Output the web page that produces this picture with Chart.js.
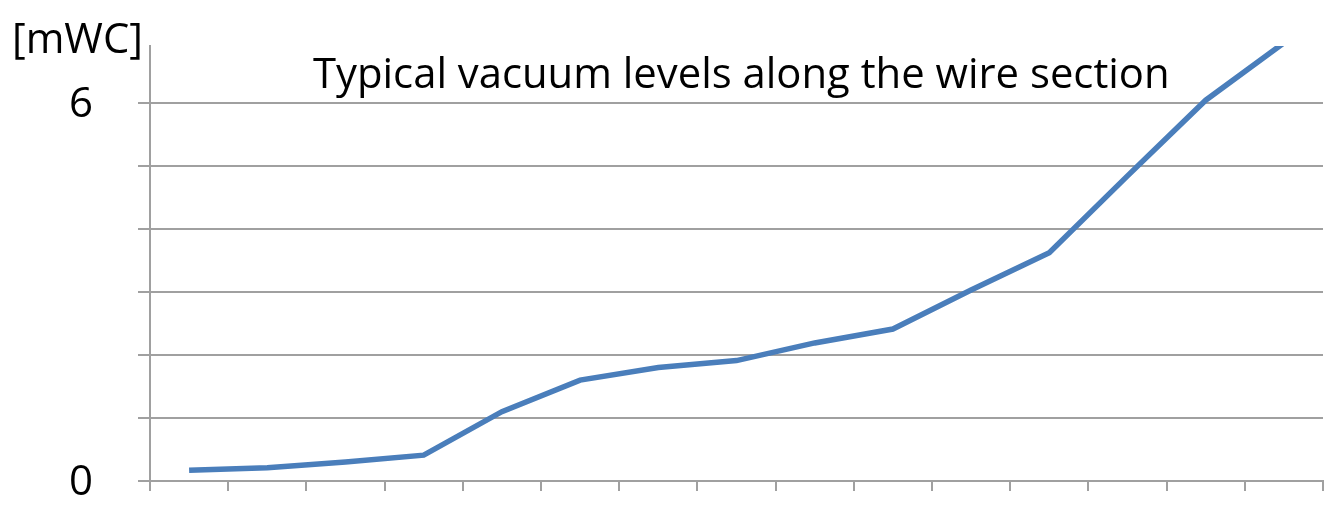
<!DOCTYPE html>
<html>
<head>
<meta charset="utf-8">
<script src="https://cdn.jsdelivr.net/npm/chart.js@4/dist/chart.umd.min.js"></script>
<style>
  html, body { margin: 0; padding: 0; background: #fff; }
  #wrap { width: 1328px; height: 505px; }
</style>
</head>
<body>
<div id="wrap"><canvas id="vacChart" width="1328" height="505"></canvas></div>
<script>
// wire section positions (15 measuring points)
const positions = ['1', '2', '3', '4', '5', '6', '7', '8', '9', '10', '11', '12', '13', '14', '15'];
// vacuum level in mWC
const vacuum = [0.17, 0.21, 0.30, 0.41, 1.10, 1.60, 1.80, 1.91, 2.19, 2.41, 3.03, 3.62, 4.84, 6.04, 6.95];
const shownTicks = [0, 6];
const titleText = 'Typical vacuum levels along the wire section';
const unitText = '[mWC]';

const FONT = '"Open Sans", "DejaVu Sans", sans-serif';
const GRID = '#a0a0a0';

// draws the unit label and the in-plot title
const textPlugin = {
  id: 'texts',
  afterDraw(chart) {
    const ctx = chart.ctx;
    ctx.save();
    ctx.fillStyle = '#000';
    ctx.textBaseline = 'alphabetic';
    ctx.textAlign = 'left';

    // fit title to the width seen in the reference
    let size = 36;
    ctx.font = `${size}px ${FONT}`;
    const w = ctx.measureText(titleText).width;
    size = size * 857 / w;
    ctx.font = `${size}px ${FONT}`;
    ctx.fillText(titleText, 313, 88);

    let us = 36;
    ctx.font = `${us}px ${FONT}`;
    const uw = ctx.measureText(unitText).width;
    us = us * 131 / uw;
    ctx.font = `${us}px ${FONT}`;
    ctx.fillText(unitText, 12, 53);
    ctx.restore();
  }
};

new Chart(document.getElementById('vacChart'), {
  type: 'line',
  data: {
    labels: positions,
    datasets: [{
      data: vacuum,
      borderColor: '#4a7ebb',
      borderWidth: 5.5,
      pointRadius: 0,
      tension: 0,
      fill: false,
    }],
  },
  options: {
    responsive: false,
    animation: false,
    layout: { padding: { top: 46, right: 5, left: 0, bottom: 0 } },
    plugins: {
      legend: { display: false },
      tooltip: { enabled: false },
      title: { display: false },
    },
    scales: {
      x: {
        offset: true,
        grid: {
          offset: true,
          drawOnChartArea: false,
          drawTicks: true,
          tickLength: 10,
          color: GRID,
          lineWidth: 2,
        },
        border: { color: GRID, width: 2 },
        ticks: { display: false },
        afterFit(scale) {
          scale.height = 24;
          scale.paddingLeft = 0;
          scale.paddingRight = 0;
        },
      },
      y: {
        min: 0,
        max: 6.9,
        grid: {
          color: GRID,
          lineWidth: 2,
          tickLength: 12,
        },
        border: { color: GRID, width: 2 },
        ticks: {
          stepSize: 1,
          includeBounds: false,
          padding: 45,
          labelOffset: 2,
          color: '#000',
          font: { family: FONT, size: 42 },
          callback: (v) => (shownTicks.includes(v) ? String(v) : ''),
        },
        afterFit(scale) {
          scale.width = 150;
          scale.paddingTop = 0;
          scale.paddingBottom = 0;
        },
      },
    },
  },
  plugins: [textPlugin],
});
</script>
</body>
</html>
